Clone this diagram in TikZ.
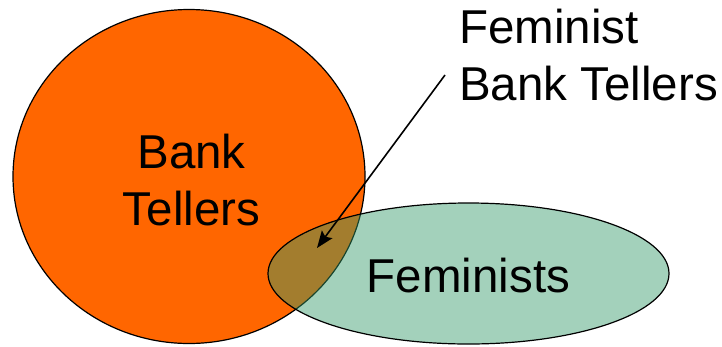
\documentclass[tikz,border=0pt]{standalone}
\usepackage{fontspec}
\setmainfont{Liberation Sans}
\usetikzlibrary{arrows.meta}
\definecolor{tellerorange}{RGB}{255,102,0}
\definecolor{feministgreen}{RGB}{51,153,104}
\begin{document}
\begin{tikzpicture}[x=1pt,y=-1pt,
  setline/.style={draw=black,line width=1.2pt},
  lbl/.style={inner sep=0pt,font=\fontsize{47.5}{57}\selectfont,align=center,text=black}]
\useasboundingbox (0,0) rectangle (722,346);
\path[setline,fill=tellerorange] (189,176.5) ellipse [x radius=176,y radius=167];
\path[setline,fill=feministgreen,fill opacity=0.45] (468.5,273.5) ellipse [x radius=200.5,y radius=70.5];
\node[lbl] (bt) at (191.5,180.5) {Bank\\Tellers};
\node[lbl,anchor=base] (fem) at (468.5,292) {Feminists};
\node[lbl,anchor=west,align=left] (fbt) at (459,55) {Feminist\\Bank Tellers};
\coordinate (from) at (445,75);
\coordinate (tip) at (317,248);
\draw[line width=1.6pt,-{Stealth[length=17pt,width=13pt,inset=3pt]}] (from) -- (tip);
\end{tikzpicture}
\end{document}
